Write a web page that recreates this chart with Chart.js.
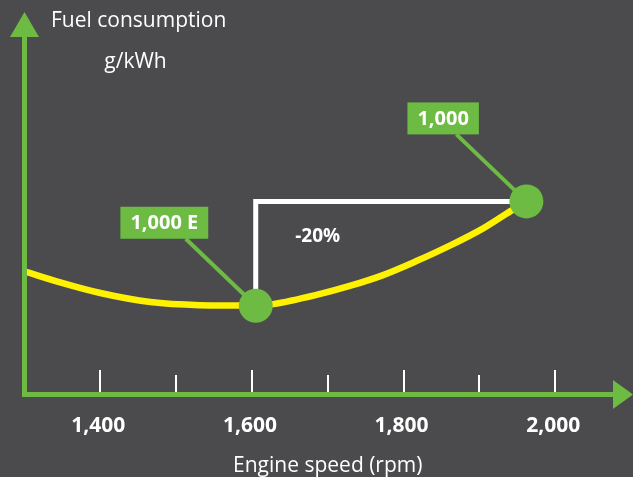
<!DOCTYPE html>
<html>
<head>
<meta charset="utf-8">
<script src="https://cdn.jsdelivr.net/npm/chart.js@4/dist/chart.umd.min.js"></script>
<style>
  html, body { margin: 0; padding: 0; background: #4b4b4d; }
  #wrap { width: 633px; height: 477px; position: relative; }
</style>
</head>
<body>
<div id="wrap"><canvas id="c" width="633" height="477"></canvas></div>
<script>
// Specific fuel consumption curve over engine speed
const curveSpeed = [1300, 1347, 1400, 1466, 1531, 1585, 1605, 1628, 1685, 1729, 1773, 1817, 1861, 1905, 1940, 1962];
const curveFuel  = [216.5, 211.2, 206.1, 201.8, 200.3, 200.1, 200.0, 200.8, 205.2, 209.5, 214.7, 221.4, 228.8, 237.1, 245.1, 250.0];

// Operating points of the two engines
const engineNames = ['1,000 E', '1,000'];
const engineSpeed = [1605, 1962];
const engineFuel  = [200, 250];

// Axis ticks along engine speed
const tickSpeeds = [1400, 1500, 1600, 1700, 1800, 1900, 2000];
const tickLabels = ['1,400', '', '1,600', '', '1,800', '', '2,000'];

const savingLabel = '-20%';
const yTitle = 'Fuel consumption';
const yUnit = 'g/kWh';
const xTitle = 'Engine speed (rpm)';

const GREEN = '#6dbb43';
const YELLOW = '#fff200';
const WHITE = '#ffffff';
const FONT = '"Open Sans", "Noto Sans", sans-serif';

const decorations = {
  id: 'decorations',
  beforeDatasetsDraw(chart) {
    const { ctx, scales: { x, y } } = chart;
    const p0 = { x: x.getPixelForValue(engineSpeed[0]), y: y.getPixelForValue(engineFuel[0]) };
    const p1 = { x: x.getPixelForValue(engineSpeed[1]), y: y.getPixelForValue(engineFuel[1]) };
    ctx.save();
    // bracket showing the consumption step between the two engines
    ctx.strokeStyle = WHITE;
    ctx.lineWidth = 5;
    ctx.lineJoin = 'miter';
    ctx.beginPath();
    ctx.moveTo(p0.x, p0.y);
    ctx.lineTo(p0.x, p1.y);
    ctx.lineTo(p1.x, p1.y);
    ctx.stroke();
    // leader lines from the markers to their name tags
    ctx.strokeStyle = GREEN;
    ctx.lineWidth = 4;
    [p0, p1].forEach(p => {
      ctx.beginPath();
      ctx.moveTo(p.x, p.y);
      ctx.lineTo(p.x - 70, p.y - 67);
      ctx.stroke();
    });
    ctx.restore();
  },
  afterDatasetsDraw(chart) {
    const { ctx, chartArea: a, scales: { x, y } } = chart;
    const W = chart.width;
    const ax = a.left;
    const ay = a.bottom;
    ctx.save();

    // axes with arrow heads
    ctx.fillStyle = GREEN;
    ctx.fillRect(ax - 2.5, 36, 5, ay + 2.5 - 36);
    ctx.fillRect(ax - 2.5, ay - 2.5, 614 - (ax - 2.5), 5);
    ctx.beginPath();
    ctx.moveTo(ax, 12);
    ctx.lineTo(ax + 14.5, 37);
    ctx.lineTo(ax - 14.5, 37);
    ctx.closePath();
    ctx.fill();
    ctx.beginPath();
    ctx.moveTo(W, ay);
    ctx.lineTo(613, ay - 14.5);
    ctx.lineTo(613, ay + 14.5);
    ctx.closePath();
    ctx.fill();

    // tick marks and tick labels
    ctx.fillStyle = WHITE;
    tickSpeeds.forEach((v, i) => {
      const px = Math.round(x.getPixelForValue(v));
      const major = tickLabels[i] !== '';
      const top = major ? 370 : 375;
      ctx.fillRect(px - 1, top, 2, ay - 2.5 - top);
    });
    ctx.font = 'bold 21px ' + FONT;
    ctx.textAlign = 'center';
    ctx.textBaseline = 'alphabetic';
    tickSpeeds.forEach((v, i) => {
      if (tickLabels[i]) ctx.fillText(tickLabels[i], x.getPixelForValue(v) - 2, 432);
    });

    // axis titles
    ctx.font = '21px ' + FONT;
    ctx.fillText(xTitle, (a.left + a.right) / 2, 472);
    ctx.textAlign = 'left';
    ctx.fillText(yTitle, 51, 27);
    ctx.textAlign = 'center';
    ctx.fillText(yUnit, 135.5, 68);

    // saving label inside the bracket
    const p0 = { x: x.getPixelForValue(engineSpeed[0]), y: y.getPixelForValue(engineFuel[0]) };
    const p1 = { x: x.getPixelForValue(engineSpeed[1]), y: y.getPixelForValue(engineFuel[1]) };
    ctx.font = 'bold 19px ' + FONT;
    ctx.fillText(savingLabel, p0.x + 62, p1.y + 41);

    // name tags
    ctx.font = 'bold 20px ' + FONT;
    ctx.textBaseline = 'middle';
    engineNames.forEach((name, i) => {
      const px = x.getPixelForValue(engineSpeed[i]);
      const py = y.getPixelForValue(engineFuel[i]);
      const tw = ctx.measureText(name).width;
      const bw = tw + 20, bh = 32;
      const right = px - 47.5;
      const top = py - 99;
      ctx.fillStyle = GREEN;
      ctx.fillRect(right - bw, top, bw, bh);
      ctx.fillStyle = WHITE;
      ctx.fillText(name, right - bw / 2, top + bh / 2 + 1);
    });
    ctx.restore();
  }
};

new Chart(document.getElementById('c'), {
  type: 'line',
  data: {
    datasets: [
      {
        data: engineSpeed.map((s, i) => ({ x: s, y: engineFuel[i] })),
        showLine: false,
        pointRadius: 17,
        pointHoverRadius: 17,
        pointBackgroundColor: GREEN,
        pointBorderWidth: 0,
        pointBorderColor: GREEN
      },
      {
        data: curveSpeed.map((s, i) => ({ x: s, y: curveFuel[i] })),
        borderColor: YELLOW,
        borderWidth: 6.5,
        pointRadius: 0,
        cubicInterpolationMode: 'monotone',
        fill: false
      }
    ]
  },
  options: {
    responsive: false,
    devicePixelRatio: 1,
    animation: false,
    events: [],
    layout: { autoPadding: false, padding: { left: 24.5, right: 2, top: 13.5, bottom: 82.5 } },
    plugins: { legend: { display: false }, tooltip: { enabled: false } },
    scales: {
      x: { type: 'linear', min: 1300, max: 2100, display: false },
      y: { type: 'linear', min: 157.5, max: 340, display: false }
    }
  },
  plugins: [decorations]
});
</script>
</body>
</html>
